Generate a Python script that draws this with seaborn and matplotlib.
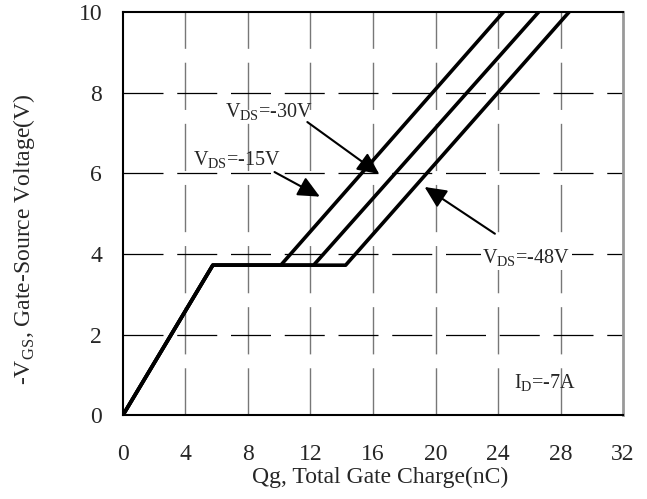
import pandas as pd
import matplotlib
matplotlib.use('Agg')
import matplotlib.pyplot as plt
import seaborn as sns

# Gate charge curves
qg_15 = [0, 5.75, 10.1, 24.35]
vgs_15 = [0, 3.72, 3.72, 10]
qg_30 = [0, 5.75, 12.2, 26.6]
vgs_30 = [0, 3.72, 3.72, 10]
qg_48 = [0, 5.75, 14.25, 28.55]
vgs_48 = [0, 3.72, 3.72, 10]

x_ticks = [0, 4, 8, 12, 16, 20, 24, 28, 32]
y_ticks = [0, 2, 4, 6, 8, 10]

# Build one long table for seaborn
df = pd.concat([
    pd.DataFrame({'qg': qg_15, 'vgs': vgs_15, 'vds': '-15V'}),
    pd.DataFrame({'qg': qg_30, 'vgs': vgs_30, 'vds': '-30V'}),
    pd.DataFrame({'qg': qg_48, 'vgs': vgs_48, 'vds': '-48V'}),
])

sns.set_style('white')
plt.rcParams['font.family'] = ['Liberation Serif', 'DejaVu Serif']
plt.rcParams['mathtext.fontset'] = 'custom'
plt.rcParams['mathtext.rm'] = 'Liberation Serif'

fig = plt.figure(figsize=(6.47, 4.99), dpi=100)
ax = fig.add_axes([0.190, 0.168, 0.773, 0.808])

# Grid: gray broken verticals, black dashed horizontals
for x in x_ticks[1:-1]:
    ax.axvline(x, color='#777777', lw=1.0, dashes=(34, 10), zorder=0)
for y in y_ticks[1:-1]:
    ax.axhline(y, color='black', lw=0.9, dashes=(32, 11), zorder=0)

# Draw the three curves
sns.lineplot(data=df, x='qg', y='vgs', units='vds', estimator=None, sort=False,
             color='black', lw=2.6, ax=ax, legend=False)

ax.set_xlim(0, 32)
ax.set_ylim(0, 10)
ax.set_xticks(x_ticks)
ax.set_yticks(y_ticks)
ax.tick_params(axis='x', length=0, pad=21, labelsize=17)
ax.tick_params(axis='y', length=0, pad=15, labelsize=17)

ax.set_xlabel('Qg, Total Gate Charge(nC)', fontsize=17)
ax.set_ylabel(r'-V$_{\mathrm{GS}}$, Gate-Source Voltage(V)', fontsize=17)
ax.xaxis.set_label_coords(0.514, -0.128)
ax.yaxis.set_label_coords(-0.172, 0.436)

for side in ['left', 'bottom', 'top']:
    ax.spines[side].set_color('black')
    ax.spines[side].set_linewidth(1.5)
ax.spines['right'].set_color('#999999')
ax.spines['right'].set_linewidth(2)

# Labels with arrows
arrow = dict(arrowstyle='-|>,head_length=0.6,head_width=0.28', color='black', lw=1.5,
             mutation_scale=22, shrinkA=0, shrinkB=0)
ax.text(6.5, 7.5, r'V$_{\mathrm{DS}}$=-30V', fontsize=14.5, va='center', ha='left')
ax.annotate('', xy=(16.4, 5.98), xytext=(11.8, 7.27), arrowprops=arrow)
ax.text(4.5, 6.32, r'V$_{\mathrm{DS}}$=-15V', fontsize=14.5, va='center', ha='left')
ax.annotate('', xy=(12.6, 5.42), xytext=(9.7, 6.03), arrowprops=arrow)
ax.text(23.0, 3.9, r'V$_{\mathrm{DS}}$=-48V', fontsize=14.5, va='center', ha='left',
        bbox=dict(facecolor='white', edgecolor='none', pad=1))
ax.annotate('', xy=(19.3, 5.66), xytext=(23.8, 4.5), arrowprops=arrow)
ax.text(25.0, 0.8, r'I$_{\mathrm{D}}$=-7A', fontsize=14.5, va='center', ha='left')

fig.savefig('out.png', dpi=100)
